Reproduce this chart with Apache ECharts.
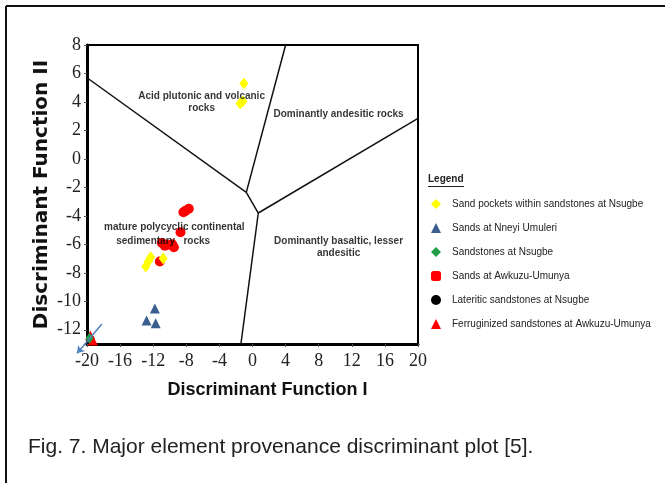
<!DOCTYPE html>
<html><head><meta charset="utf-8">
<script src="https://cdn.jsdelivr.net/npm/echarts@6/dist/echarts.min.js"></script>
<style>html,body{margin:0;padding:0;background:#fff}#c{width:665px;height:483px}</style>
</head><body><div id="c"></div>
<script>
const xTicks = [-20, -16, -12, -8, -4, 0, 4, 8, 12, 16, 20];
const yTicks = [-12, -10, -8, -6, -4, -2, 0, 2, 4, 6, 8];
const seriesNames = [
  'Sand pockets within sandstones at Nsugbe',
  'Sands at Nneyi Umuleri',
  'Sandstones at Nsugbe',
  'Sands at Awkuzu-Umunya',
  'Lateritic sandstones at Nsugbe',
  'Ferruginized sandstones at Awkuzu-Umunya'
];
const sandPocketsNsugbe = [[-1.05, 5.3], [-1.5, 3.9], [-1.15, 4.05], [-12.9, -7.55], [-12.6, -7.2], [-12.3, -6.9], [-10.8, -7.0]];
const sandsNneyi = [[-11.8, -10.5], [-12.8, -11.35], [-11.7, -11.55]];
const sandstonesNsugbe = [[-19.7, -12.6]];
const sandsAwkuzu = [[-8.1, -3.65], [-7.7, -3.5], [-8.35, -3.75], [-8.7, -5.15], [-10.95, -5.9], [-10.6, -6.1], [-10.3, -6.05], [-9.7, -6.0], [-9.5, -6.2], [-11.2, -7.2]];
const lateriticNsugbe = [[-19.6, -12.7]];
const ferruginizedAwkuzu = [[-19.3, -12.75], [-19.6, -12.4]];
const boundaries = [
  [[-20, 5.7], [-0.75, -2.35]],
  [[-0.75, -2.35], [4.0, 8]],
  [[-0.75, -2.35], [0.7, -3.8]],
  [[0.7, -3.8], [20, 2.85]],
  [[0.7, -3.8], [-1.4, -13]]
];
const regionLabels = [
  [-6.15, 3.98, 'Acid plutonic and volcanic\nrocks'],
  [10.4, 3.13, 'Dominantly andesitic rocks'],
  [-9.45, -4.8, 'mature polycyclic continental'],
  [-10.8, -5.81, 'sedimentary   rocks'],
  [10.4, -6.21, 'Dominantly basaltic, lesser\nandesitic']
];
const arrow = [[-18.2, -11.6], [-21.2, -13.65]];

const colors = ['#ffff00', '#3a5f8f', '#1e9e48', '#ff0000', '#000000', '#ff0000'];
const symbols = ['diamond', 'triangle', 'diamond', 'roundRect', 'circle', 'triangle'];
const datasets = [sandPocketsNsugbe, sandsNneyi, sandstonesNsugbe, sandsAwkuzu, lateriticNsugbe, ferruginizedAwkuzu];
const sizes = [[9, 12], 10, [8, 11], 10, 9, 10];
const zs = [5, 3, 6, 4, 2, 5];

const chart = echarts.init(document.getElementById('c'));
const series = [];
boundaries.forEach(function (seg) {
  series.push({ type: 'line', data: seg, symbol: 'none', silent: true, lineStyle: { color: '#111', width: 1.5 }, z: 1 });
});
datasets.forEach(function (d, i) {
  series.push({
    name: seriesNames[i], type: 'scatter', data: d, symbol: i === 3 ? 'circle' : symbols[i],
    symbolSize: sizes[i], itemStyle: { color: colors[i], opacity: 1 }, z: zs[i]
  });
});
series.push({
  type: 'scatter', data: regionLabels, symbolSize: 0, silent: true, z: 7,
  label: { show: true, position: 'inside', formatter: function (p) { return p.data[2]; },
    fontFamily: 'Liberation Sans', fontWeight: 'bold', fontSize: 10, lineHeight: 12, color: '#000', align: 'center' }
});
series.push({
  type: 'lines', coordinateSystem: 'cartesian2d', clip: false, silent: true, z: 8,
  data: [{ coords: arrow }], symbol: ['none', 'arrow'], symbolSize: 7,
  lineStyle: { color: '#4f81bd', width: 1.5, opacity: 1 }
});

chart.setOption({
  animation: false,
  backgroundColor: '#fff',
  title: {
    text: 'Fig. 7. Major element provenance discriminant plot [5].',
    left: 23, top: 432,
    textStyle: { fontFamily: 'Liberation Sans', fontWeight: 'normal', fontSize: 21, color: '#222' }
  },
  legend: {
    orient: 'vertical', left: 431, top: 199, padding: 0, itemWidth: 10, itemHeight: 10, itemGap: 14,
    data: seriesNames.map(function (n, i) { return { name: n, icon: symbols[i] }; }),
    textStyle: { fontFamily: 'Liberation Sans', fontSize: 10, color: '#222', padding: [0, 0, 0, 6] },
    selectedMode: false
  },
  grid: { left: 87, top: 45, width: 331, height: 299, show: true, borderColor: '#000', borderWidth: 2, backgroundColor: 'transparent' },
  xAxis: {
    type: 'value', min: -20, max: 20, interval: 4,
    name: 'Discriminant Function I', nameLocation: 'middle', nameGap: 37,
    nameTextStyle: { fontFamily: 'Liberation Sans', fontWeight: 'bold', fontSize: 18, color: '#111', padding: [0, 0, 0, 30] },
    axisLine: { show: true, onZero: false, lineStyle: { color: '#000', width: 3 } },
    axisTick: { show: true, length: 3, lineStyle: { color: '#555' } },
    axisLabel: { customValues: xTicks, fontFamily: 'Liberation Serif', fontSize: 18, color: '#222', margin: 8 },
    splitLine: { show: false }
  },
  yAxis: {
    type: 'value', min: -13, max: 8,
    name: 'Discriminant Function II', nameLocation: 'middle', nameGap: 35,
    nameTextStyle: { fontFamily: 'DejaVu Sans', fontWeight: 'bold', fontSize: 20, color: '#111' },
    axisLine: { show: true, onZero: false, lineStyle: { color: '#000', width: 3 } },
    axisTick: { show: true, length: 3, customValues: yTicks, lineStyle: { color: '#555' } },
    axisLabel: { customValues: yTicks, fontFamily: 'Liberation Serif', fontSize: 18, color: '#222', margin: 6 },
    splitLine: { show: false }
  },
  graphic: [
    { type: 'line', shape: { x1: 6, y1: 6, x2: 665, y2: 6 }, style: { stroke: '#111', lineWidth: 2 } },
    { type: 'line', shape: { x1: 6, y1: 6, x2: 6, y2: 483 }, style: { stroke: '#111', lineWidth: 2 } },
    { type: 'text', left: 428, top: 174, style: { text: 'Legend', fontFamily: 'Liberation Sans', fontWeight: 'bold', fontSize: 10, fill: '#222' } },
    { type: 'line', shape: { x1: 428, y1: 186.5, x2: 464, y2: 186.5 }, style: { stroke: '#222', lineWidth: 1 } }
  ],
  series: series
});
</script></body></html>
